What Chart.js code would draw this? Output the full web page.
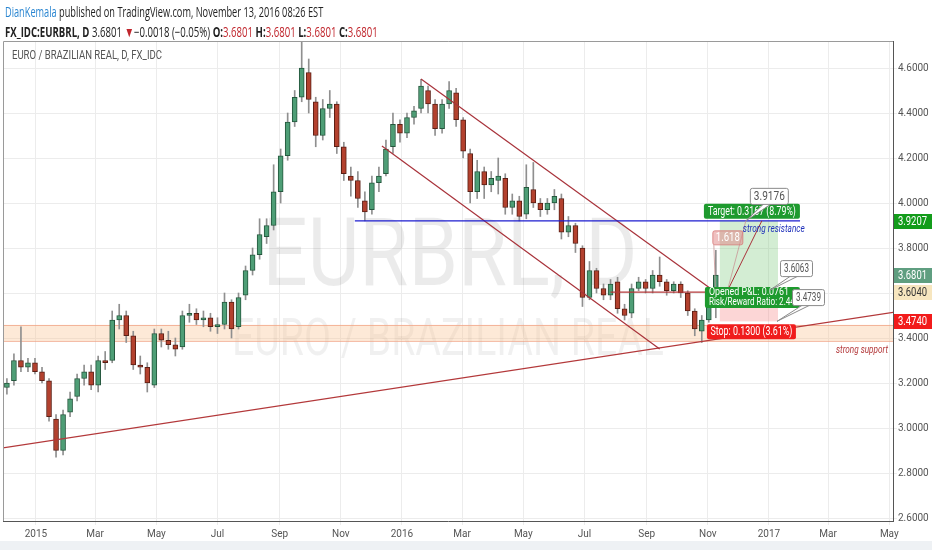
<!DOCTYPE html>
<html>
<head>
<meta charset="utf-8">
<script src="https://cdn.jsdelivr.net/npm/chart.js@4.4.1/dist/chart.umd.min.js"></script>
<style>
    body { margin: 0; background: #fff; font-family: 'Open Sans', sans-serif; }
    #wrap { position: relative; width: 932px; height: 550px; overflow: hidden; background: #fff; }
    #wrap canvas { position: absolute; left: 0; top: 0; }
    .head { position: absolute; left: 5px; white-space: nowrap; color: #222; transform-origin: 0 0; }
    #line1 { top: 2px; font-size: 14.5px; }
    #line2 { top: 22px; font-size: 14px; }
    .red { color: #c0262d; }
    #foot { position: absolute; left: 0; top: 541px; width: 932px; height: 9px; background: #eef1f4; }
</style>
</head>
<body>
<div id="wrap">
    <canvas id="chart" width="932" height="550"></canvas>
    <div class="head" id="line1"><span style="color:#2b86d1">DianKemala</span> published on TradingView.com, November 13, 2016 08:26 EST</div>
    <div class="head" id="line2"><b>FX_IDC:EURBRL, D</b> 3.6801 <span class="red">&#9660;</span>&minus;0.0018 (&minus;0.05%) <b>O:</b><span class="red">3.6801</span> <b>H:</b><span class="red">3.6801</span> <b>L:</b><span class="red">3.6801</span> <b>C:</b><span class="red">3.6801</span></div>
    <div id="foot"></div>
</div>
<script>
const FONT = "Roboto, 'Open Sans', sans-serif";

// weekly bars, first one is the week of 3 Dec 2014
const firstWeek = "2014-12-03";
const opens  = [3.18,3.21,3.30,3.27,3.29,3.25,3.21,3.04,2.90,3.07,3.14,3.22,3.25,3.19,3.30,3.30,3.48,3.50,3.41,3.28,
                3.27,3.19,3.42,3.39,3.37,3.36,3.50,3.51,3.48,3.49,3.45,3.46,3.56,3.45,3.59,3.70,3.77,3.85,3.90,4.05,
                4.21,4.36,4.47,4.58,4.45,4.30,4.42,4.44,4.25,4.12,4.10,4.01,3.97,4.09,4.13,4.25,4.35,4.31,4.38,4.42,
                4.50,4.44,4.33,4.44,4.49,4.37,4.22,4.05,4.14,4.08,4.10,4.11,3.98,4.01,3.95,4.06,4.00,3.97,4.00,4.02,
                3.87,3.90,3.80,3.58,3.70,3.62,3.59,3.65,3.53,3.51,3.62,3.65,3.62,3.68,3.65,3.61,3.64,3.60,3.52,3.43,
                3.48,3.57];
const highs  = [3.22,3.33,3.45,3.31,3.31,3.27,3.22,3.06,3.08,3.16,3.24,3.28,3.28,3.32,3.34,3.52,3.55,3.52,3.43,3.32,
                3.29,3.44,3.44,3.43,3.40,3.52,3.55,3.53,3.52,3.51,3.49,3.60,3.57,3.60,3.72,3.80,3.93,3.93,4.17,4.24,
                4.40,4.50,4.715,4.64,4.47,4.46,4.50,4.45,4.27,4.16,4.14,4.05,4.12,4.16,4.28,4.40,4.37,4.40,4.43,4.55,
                4.52,4.46,4.46,4.54,4.51,4.38,4.24,4.19,4.16,4.14,4.20,4.13,4.04,4.03,4.17,4.18,4.02,4.02,4.06,4.04,
                3.94,3.91,3.81,3.74,3.71,3.64,3.66,3.67,3.55,3.64,3.67,3.66,3.70,3.76,3.66,3.65,3.65,3.61,3.53,3.50,
                3.61,3.79];
const lows   = [3.15,3.19,3.25,3.25,3.24,3.20,3.03,2.87,2.88,3.05,3.12,3.19,3.17,3.16,3.26,3.29,3.44,3.38,3.26,3.24,
                3.16,3.18,3.36,3.35,3.32,3.35,3.47,3.46,3.45,3.43,3.42,3.44,3.40,3.44,3.57,3.68,3.75,3.82,3.88,4.00,
                4.19,4.34,4.45,4.40,4.25,4.28,4.38,4.22,4.10,4.03,3.98,3.92,3.95,4.05,4.12,4.22,4.27,4.29,4.35,4.40,
                4.40,4.30,4.31,4.42,4.34,4.20,4.00,4.02,4.02,4.05,4.04,3.95,3.95,3.92,3.93,3.98,3.94,3.95,3.97,3.84,
                3.85,3.78,3.54,3.57,3.60,3.57,3.57,3.51,3.48,3.49,3.61,3.60,3.60,3.63,3.59,3.60,3.58,3.50,3.41,3.38,
                3.47,3.49];
const closes = [3.20,3.30,3.27,3.29,3.25,3.21,3.05,2.90,3.06,3.13,3.22,3.25,3.19,3.30,3.29,3.48,3.50,3.41,3.28,3.27,
                3.20,3.42,3.39,3.37,3.35,3.50,3.51,3.48,3.49,3.45,3.46,3.56,3.44,3.58,3.70,3.77,3.86,3.90,4.05,4.21,
                4.36,4.47,4.60,4.46,4.30,4.42,4.44,4.25,4.13,4.10,4.02,3.96,4.09,4.12,4.24,4.35,4.31,4.38,4.41,4.52,
                4.44,4.33,4.44,4.50,4.37,4.23,4.05,4.14,4.08,4.11,4.12,3.98,4.01,3.94,4.07,4.00,3.97,4.00,4.03,3.87,
                3.90,3.82,3.58,3.70,3.62,3.59,3.64,3.53,3.50,3.62,3.65,3.62,3.68,3.65,3.61,3.64,3.60,3.52,3.44,3.48,
                3.58,3.6801];

// axes
const monthTicks  = ["2015-01-01","2015-03-01","2015-05-01","2015-07-01","2015-09-01","2015-11-01","2016-01-01",
                     "2016-03-01","2016-05-01","2016-07-01","2016-09-01","2016-11-01","2017-01-01","2017-03-01","2017-05-01"];
const monthLabels = ["2015","Mar","May","Jul","Sep","Nov","2016","Mar","May","Jul","Sep","Nov","2017","Mar","May"];
const priceTicks  = [2.6, 2.8, 3.0, 3.2, 3.4, 3.6, 3.8, 4.0, 4.2, 4.4, 4.6];

// drawings
const supportLine  = [["2014-11-29", 2.912], ["2017-05-05", 3.514]];
const channelUpper = [["2016-01-20", 4.551], ["2016-11-03", 3.622]];
const channelLower = [["2015-12-12", 4.253], ["2016-09-14", 3.351]];
const resistance   = [["2015-11-15", 3.9207], ["2017-02-01", 3.9207]];
const entryLine    = [["2016-07-27", 3.604], ["2016-11-05", 3.604]];
const supportZone  = [3.387, 3.458];
const tradeDates   = ["2016-11-13", "2017-01-10"];
const tradeLevels  = { target: 3.9207, entry: 3.604, stop: 3.474 };
const lastPrice    = 3.6801;

function day(s) {
    const p = s.split("-").map(Number);
    return (Date.UTC(p[0], p[1] - 1, p[2]) - Date.UTC(2015, 0, 1)) / 86400000;
}

// squeeze the header lines to the condensed look of the original
[["line1", 318], ["line2", 373]].forEach(([id, target]) => {
    const el = document.getElementById(id);
    el.style.transform = "scaleX(" + (target / el.offsetWidth) + ")";
});

const start = day(firstWeek);
const bodies = closes.map((c, i) => ({ x: start + 7 * i, y: [opens[i], c] }));
const wicks = closes.map((c, i) => ({ x: start + 7 * i, y: [lows[i], highs[i]] }));
const isUp = closes.map((c, i) => c >= opens[i]);

function box(ctx, x, y, w, h, fill, stroke) {
    ctx.beginPath();
    ctx.roundRect(x, y, w, h, 2);
    ctx.fillStyle = fill;
    ctx.fill();
    if (stroke) { ctx.strokeStyle = stroke; ctx.lineWidth = 1; ctx.stroke(); }
}

// text squeezed to a fixed width (fillText maxWidth)
function label(ctx, text, x, y, size, color, align, width, style) {
    ctx.font = (style ? style + " " : "") + size + "px " + FONT;
    ctx.fillStyle = color;
    ctx.textAlign = align;
    ctx.textBaseline = "middle";
    ctx.fillText(text, x, y, width);
}

function segment(ctx, chart, pts, color, width) {
    const sx = chart.scales.x, sy = chart.scales.y;
    ctx.beginPath();
    ctx.moveTo(sx.getPixelForValue(day(pts[0][0])), sy.getPixelForValue(pts[0][1]));
    ctx.lineTo(sx.getPixelForValue(day(pts[1][0])), sy.getPixelForValue(pts[1][1]));
    ctx.strokeStyle = color;
    ctx.lineWidth = width || 1;
    ctx.stroke();
}

function callout(ctx, text, x, y, w, tx, ty) {
    ctx.beginPath();
    ctx.moveTo(x + w / 2 - 4, y + 15);
    ctx.lineTo(tx, ty);
    ctx.lineTo(x + w / 2 + 4, y + 15);
    ctx.fillStyle = "#fff";
    ctx.fill();
    ctx.strokeStyle = "#8a8a8a";
    ctx.lineWidth = 1;
    ctx.stroke();
    box(ctx, x + 0.5, y + 0.5, w, 16, "#fff", "#8a8a8a");
    label(ctx, text, x + w / 2 + 0.5, y + 9, 12, "#555", "center", w - 7);
}

const overlay = {
    id: "overlay",
    beforeDatasetsDraw(chart) {
        const ctx = chart.ctx, a = chart.chartArea, sx = chart.scales.x, sy = chart.scales.y;
        ctx.save();
        ctx.beginPath(); ctx.rect(a.left, a.top, a.right - a.left, a.bottom - a.top); ctx.clip();

        // watermark
        ctx.fillStyle = "rgba(0,0,0,0.08)";
        ctx.textAlign = "center";
        ctx.textBaseline = "alphabetic";
        ctx.font = "94px " + FONT;
        ctx.fillText("EURBRL, D", 450, 285, 375);
        ctx.fillStyle = "rgba(0,0,0,0.06)";
        ctx.font = "52px " + FONT;
        ctx.fillText("EURO / BRAZILIAN REAL", 448, 355, 432);

        // support zone
        const zt = sy.getPixelForValue(supportZone[1]), zb = sy.getPixelForValue(supportZone[0]);
        ctx.fillStyle = "rgba(250,196,150,0.38)";
        ctx.fillRect(a.left, zt, a.right - a.left, zb - zt);
        ctx.strokeStyle = "rgba(240,160,130,0.75)";
        ctx.lineWidth = 1;
        ctx.beginPath();
        ctx.moveTo(a.left, zt + 0.5); ctx.lineTo(a.right, zt + 0.5);
        ctx.moveTo(a.left, zb + 0.5); ctx.lineTo(a.right, zb + 0.5);
        ctx.stroke();

        // long position box
        const bl = sx.getPixelForValue(day(tradeDates[0])), br = sx.getPixelForValue(day(tradeDates[1]));
        const yt = sy.getPixelForValue(tradeLevels.target), ye = sy.getPixelForValue(tradeLevels.entry),
              ys = sy.getPixelForValue(tradeLevels.stop);
        ctx.fillStyle = "rgba(120,200,120,0.33)";
        ctx.fillRect(bl, yt, br - bl, ye - yt);
        ctx.fillStyle = "rgba(245,130,130,0.33)";
        ctx.fillRect(bl, ye, br - bl, ys - ye);
        ctx.restore();
    },
    afterDatasetsDraw(chart) {
        const ctx = chart.ctx, a = chart.chartArea, sx = chart.scales.x, sy = chart.scales.y;
        ctx.save();
        ctx.beginPath(); ctx.rect(a.left, a.top, a.right - a.left, a.bottom - a.top); ctx.clip();

        segment(ctx, chart, supportLine, "#b3383a", 1.3);
        segment(ctx, chart, channelUpper, "#a8323a", 1.2);
        segment(ctx, chart, channelLower, "#a8323a", 1.2);
        segment(ctx, chart, resistance, "#1c1ccf", 1.2);
        segment(ctx, chart, entryLine, "#b3383a", 1.2);

        const bl = sx.getPixelForValue(day(tradeDates[0])), br = sx.getPixelForValue(day(tradeDates[1]));
        const yt = sy.getPixelForValue(tradeLevels.target), ye = sy.getPixelForValue(tradeLevels.entry),
              ys = sy.getPixelForValue(tradeLevels.stop);
        const mid = (bl + br) / 2 + 3;

        // projection lines
        ctx.lineWidth = 1;
        ctx.strokeStyle = "rgba(200,150,150,0.8)";
        ctx.beginPath(); ctx.moveTo(bl + 8, ye - 3); ctx.lineTo(bl + 26, yt); ctx.stroke();
        ctx.beginPath(); ctx.moveTo(bl - 6, yt + 24); ctx.lineTo(bl - 4, ye + 8); ctx.stroke();
        ctx.strokeStyle = "#a8323a";
        ctx.beginPath(); ctx.moveTo(bl + 8, ye - 2); ctx.lineTo(bl + 42, yt); ctx.stroke();

        // labels of the position
        box(ctx, mid - 48, yt - 17, 96, 15, "#1e9a2e");
        label(ctx, "Target: 0.3167 (8.79%)", mid, yt - 9, 12, "#fff", "center", 88);

        box(ctx, mid - 45, ys + 3, 89, 15, "#f01c1c");
        label(ctx, "Stop: 0.1300 (3.61%)", mid - 0.5, ys + 11, 12, "#fff", "center", 82);

        box(ctx, mid - 47, ye - 5, 95, 21, "#1e9a2e");
        label(ctx, "Opened P&L: 0.0761", mid - 43, ye + 0.5, 11.5, "#fff", "left", 80);
        label(ctx, "Risk/Reward Ratio: 2.44", mid - 43, ye + 10.5, 11.5, "#fff", "left", 86);

        box(ctx, bl - 7, yt + 10, 30, 14, "rgba(225,140,140,0.55)", "rgba(215,120,120,0.8)");
        label(ctx, "1.618", bl + 8, yt + 17.5, 12, "#fff", "center", 24);

        // notes
        label(ctx, "strong resistance", bl + 23, yt + 8, 11, "#2233bb", "left", 62, "italic");
        label(ctx, "strong support", a.right - 5, sy.getPixelForValue(supportZone[0]) + 9, 11, "#b3383a", "right", 52, "italic");

        // price callouts
        callout(ctx, "3.9176", bl + 30, yt - 33, 38, bl + 26, yt);
        callout(ctx, "3.6063", br + 2, ye - 32, 32, br - 8, ye - 2);
        callout(ctx, "3.4739", br + 14, ye - 3, 32, br - 1, ys);
        ctx.restore();
    },
    afterDraw(chart) {
        const ctx = chart.ctx, a = chart.chartArea, sy = chart.scales.y;
        ctx.save();
        ctx.strokeStyle = "#9a9a9a";
        ctx.lineWidth = 1;
        ctx.beginPath();
        ctx.moveTo(a.left + 0.5, a.bottom); ctx.lineTo(a.left + 0.5, a.top + 0.5); ctx.lineTo(a.right, a.top + 0.5);
        ctx.stroke();

        // legend
        label(ctx, "EURO / BRAZILIAN REAL, D, FX_IDC", 12, 56, 12.5, "#555", "left", 150);

        // price tags on the axis
        const tags = [
            [tradeLevels.target, "#139c1b", "#fff"],
            [lastPrice, "#5f9e80", "#fff"],
            [tradeLevels.entry, "#f7e6bf", "#333"],
            [tradeLevels.stop, "#f21b1b", "#fff"]
        ];
        tags.forEach(t => {
            const y = Math.round(sy.getPixelForValue(t[0]));
            ctx.fillStyle = t[1];
            ctx.fillRect(a.right + 1, y - 7, 38, 15);
            label(ctx, t[0].toFixed(4), a.right + 5, y + 0.5, 12, t[2], "left", 29);
        });
        ctx.restore();
    }
};

const ctx = document.getElementById("chart").getContext("2d");

const chart = new Chart(ctx, {
    type: "bar",
    data: {
        datasets: [
            {
                data: bodies,
                backgroundColor: isUp.map(u => u ? "#4e9e76" : "#b3412e"),
                borderColor: isUp.map(u => u ? "#24573d" : "#5a1f15"),
                borderWidth: 1,
                borderSkipped: false,
                barThickness: 5,
                grouped: false
            },
            {
                data: wicks,
                backgroundColor: "#8f8f8f",
                barThickness: 1,
                grouped: false
            }
        ]
    },
    options: {
        responsive: false,
        animation: false,
        layout: { padding: { left: 3, top: 41, right: 0, bottom: 0 } },
        plugins: {
            legend: { display: false },
            tooltip: { enabled: false }
        },
        scales: {
            x: {
                type: "linear",
                min: -32.9,
                max: 854.7,
                offset: false,
                afterFit: s => { s.height = 29; },
                afterBuildTicks: s => { s.ticks = monthTicks.map(d => ({ value: day(d) })); },
                ticks: {
                    autoSkip: false,
                    maxRotation: 0,
                    padding: 3,
                    color: "#555",
                    font: { family: FONT, size: 10 },
                    callback: (v, i) => monthLabels[i]
                },
                grid: { color: "#ececec", tickLength: 4, offset: false },
                border: { color: "#555" }
            },
            y: {
                position: "right",
                min: 2.5867,
                max: 4.72,
                afterFit: s => { s.width = 39; },
                afterBuildTicks: s => { s.ticks = priceTicks.map(v => ({ value: v })); },
                ticks: {
                    padding: 1,
                    color: "#555",
                    font: { family: FONT, size: 10 },
                    callback: v => v.toFixed(4)
                },
                grid: { color: "#ececec", tickLength: 4 },
                border: { color: "#555" }
            }
        }
    },
    plugins: [overlay]
});
</script>
</body>
</html>
